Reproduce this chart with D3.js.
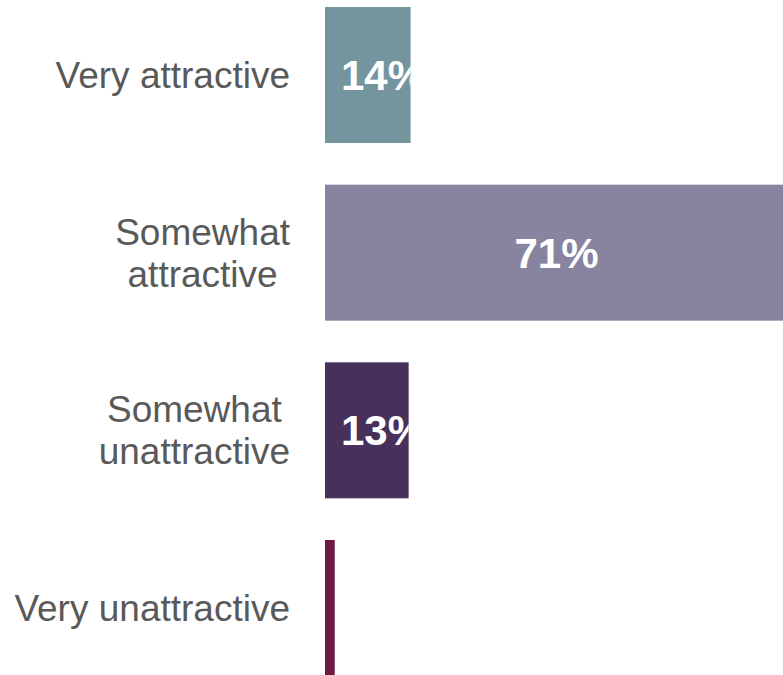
<!DOCTYPE html>
<html>
<head>
<meta charset="utf-8">
<script src="https://cdn.jsdelivr.net/npm/d3@7"></script>
<style>
  html, body { margin: 0; padding: 0; background: #ffffff; }
  svg { display: block; }
</style>
</head>
<body>
<svg id="chart" width="783" height="675"></svg>
<script>
// ---- data ----
const categories = [
  ["Very attractive"],
  ["Somewhat", "attractive"],
  ["Somewhat", "unattractive"],
  ["Very unattractive"]
];
const values = [13.2, 71.4, 12.9, 1.5];
const valueLabels = ["14%", "71%", "13%", ""];
const colors = ["#74949e", "#88849f", "#47315b", "#6e1a44"];

// ---- layout ----
const W = 783, H = 675;
const x0 = 325;
const svg = d3.select("#chart");

const ids = categories.map((c, i) => i);
const y = d3.scaleBand().domain(ids).range([7, 676]).paddingInner(0.2345).paddingOuter(0);
const x = d3.scaleLinear().domain([0, 71.4]).range([x0, 788]);

const defs = svg.append("defs");
ids.forEach(i => {
  defs.append("clipPath").attr("id", "clip" + i)
    .append("rect")
    .attr("x", x(0)).attr("y", y(i))
    .attr("width", x(values[i]) - x(0)).attr("height", y.bandwidth());
});

// bars
svg.append("g").selectAll("rect").data(ids).join("rect")
  .attr("x", x(0))
  .attr("y", i => y(i))
  .attr("width", i => x(values[i]) - x(0))
  .attr("height", y.bandwidth())
  .attr("fill", i => colors[i]);

// value labels (clipped to bar)
const vg = svg.append("g");
ids.forEach(i => {
  if (!valueLabels[i]) return;
  const t = vg.append("text")
    .attr("clip-path", "url(#clip" + i + ")")
    .attr("font-family", "Liberation Sans, Arial, sans-serif")
    .attr("font-weight", "bold")
    .attr("font-size", 42)
    .attr("fill", "#ffffff")
    .attr("y", y(i) + y.bandwidth() / 2)
    .attr("dy", "0.36em")
    .text(valueLabels[i]);
  const tw = t.node().getComputedTextLength();
  const bw = x(values[i]) - x(0);
  if (bw > tw + 28) {
    t.attr("text-anchor", "middle").attr("x", (x(0) + x(values[i])) / 2);
  } else {
    t.attr("text-anchor", "start").attr("x", x(0) + 16);
  }
});

// category labels
const lg = svg.append("g");
const lineH = 42;
ids.forEach(i => {
  const lines = categories[i];
  const g = lg.append("g");
  const texts = lines.map((ln, k) => g.append("text")
    .attr("font-family", "Liberation Sans, Arial, sans-serif")
    .attr("font-size", 37)
    .attr("fill", "#595959")
    .attr("text-anchor", "middle")
    .attr("y", y(i) + y.bandwidth() / 2 + (k - (lines.length - 1) / 2) * lineH)
    .attr("dy", "0.35em")
    .text(ln));
  const maxW = d3.max(texts, t => t.node().getComputedTextLength());
  const cx = 290 - maxW / 2;
  texts.forEach(t => t.attr("x", cx));
});
</script>
</body>
</html>
